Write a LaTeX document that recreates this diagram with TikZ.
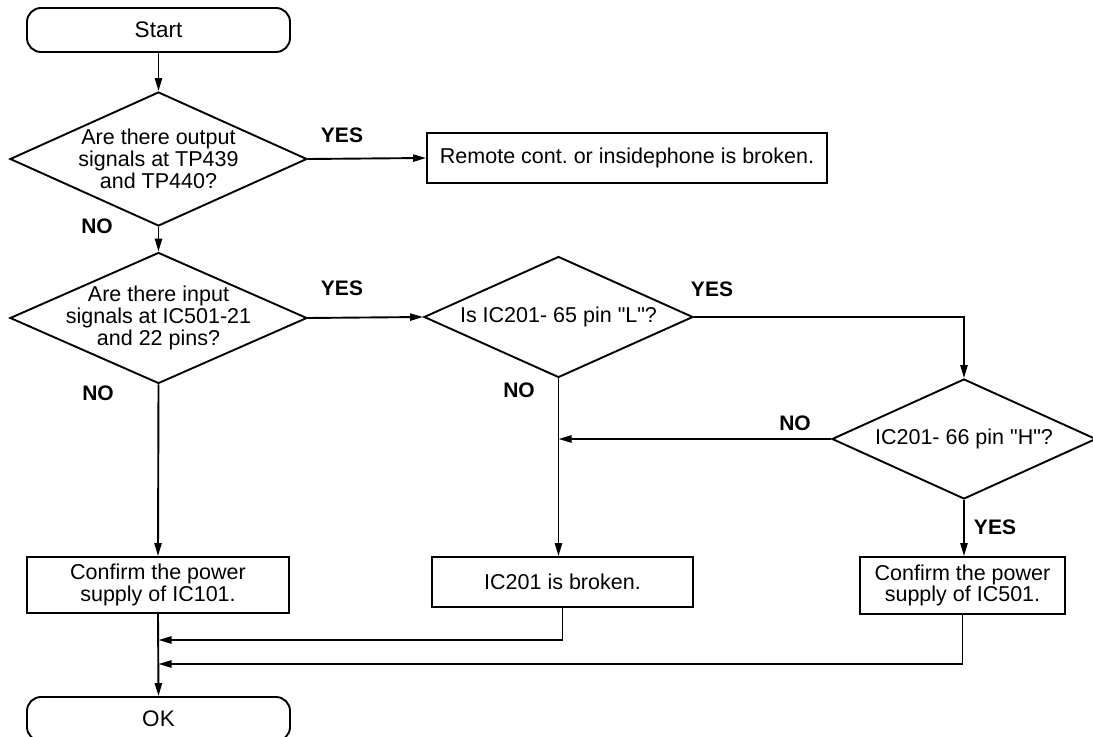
\documentclass[tikz,border=0pt]{standalone}
\usepackage{fontspec}
\setmainfont{Liberation Sans}[Ligatures=TeXOff]
\usetikzlibrary{shapes.geometric,arrows.meta}
\frenchspacing
\begin{document}
\begin{tikzpicture}[x=0.5pt,y=-0.5pt,
  every node/.style={font=\fontsize{10.75pt}{10.9pt}\selectfont},
  line/.style={line width=0.95pt},
  arr/.style={line width=0.95pt,-{Triangle[length=6.5pt,width=3.6pt]}},
  term/.style={draw,line width=0.95pt,rounded corners=7pt,minimum width=131.5pt,minimum height=22pt,inner sep=0pt,font=\fontsize{11.25pt}{12pt}\selectfont},
  box/.style={draw,line width=0.95pt,inner sep=0pt,align=center},
  dia/.style={draw,diamond,line width=0.95pt,inner sep=0pt},
  dtext/.style={align=center,inner sep=0pt},
  lab/.style={font=\bfseries\fontsize{10.5pt}{11pt}\selectfont,inner sep=0pt}
]
\useasboundingbox (0,0) rectangle (1093,737);
\clip (0,0) rectangle (1093,737);

% terminals
\node[term] (start) at (158.5,30) {Start};
\node[term] (ok) at (158.5,719) {OK};

% decisions
\node[dia,minimum width=148.5pt,minimum height=67pt] (d1) at (158.5,159) {};
\node[dtext] (t1) at (d1.center) {Are there output\\signals at TP439\\and TP440?};
\node[dia,minimum width=148.5pt,minimum height=65.5pt] (d2) at (158.5,318) {};
\node[dtext] (t2) at (d2.center) {Are there input\\signals at IC501-21\\and 22 pins?};
\node[dia,minimum width=134.5pt,minimum height=60.5pt] (d3) at (558.5,317) {};
\node[dtext] (t3) at (d3.center) {Is IC201- 65 pin "L"?};
\node[dia,minimum width=132pt,minimum height=60pt] (d4) at (964,439) {};
\node[dtext] (t4) at (d4.center) {IC201- 66 pin "H"?};

% process boxes
\node[box,minimum width=200pt,minimum height=25pt] (remote) at (627,158) {Remote cont. or insidephone is broken.};
\node[box,minimum width=131pt,minimum height=28pt] (b1) at (158,585) {Confirm the power\\supply of IC101.};
\node[box,minimum width=130.5pt,minimum height=25pt] (b2) at (562.5,582) {IC201 is broken.};
\node[box,minimum width=102.5pt,minimum height=28.5pt] (b3) at (962.5,585.5) {Confirm the power\\supply of IC501.};

% labels
\node[lab] (y1) at (342,135) {YES};
\node[lab] (n1) at (97,226) {NO};
\node[lab] (y2) at (342,288) {YES};
\node[lab] (n2) at (98,393) {NO};
\node[lab] (y3) at (712,289) {YES};
\node[lab] (n3) at (519,390) {NO};
\node[lab] (n4) at (795,423) {NO};
\node[lab] (y4) at (995,527) {YES};

% merge points
\coordinate (m1) at (158.5,640);
\coordinate (m2) at (158.5,664);

% connectors
\draw[arr] (start) -- (d1.north);
\draw[arr] (d1.east) -- (remote.west);
\draw[arr] (d1.south) -- (d2.north);
\draw[arr] (d2.east) -- (d3.west);
\draw[arr] (d2.south) -- (b1.north);
\draw[arr] (d3.east) -| (d4.north);
\draw[arr] (d3.south) -- (d3.south |- b2.north);
\draw[arr] (d4.west) -- (d4.west -| d3.south);
\draw[arr] (d4.south) -- (d4.south |- b3.north);
\draw[arr] (b2.south) |- (m1);
\draw[arr] (b3.south) |- (m2);
\draw[arr] (b1.south) -- (ok.north);
\end{tikzpicture}
\end{document}
